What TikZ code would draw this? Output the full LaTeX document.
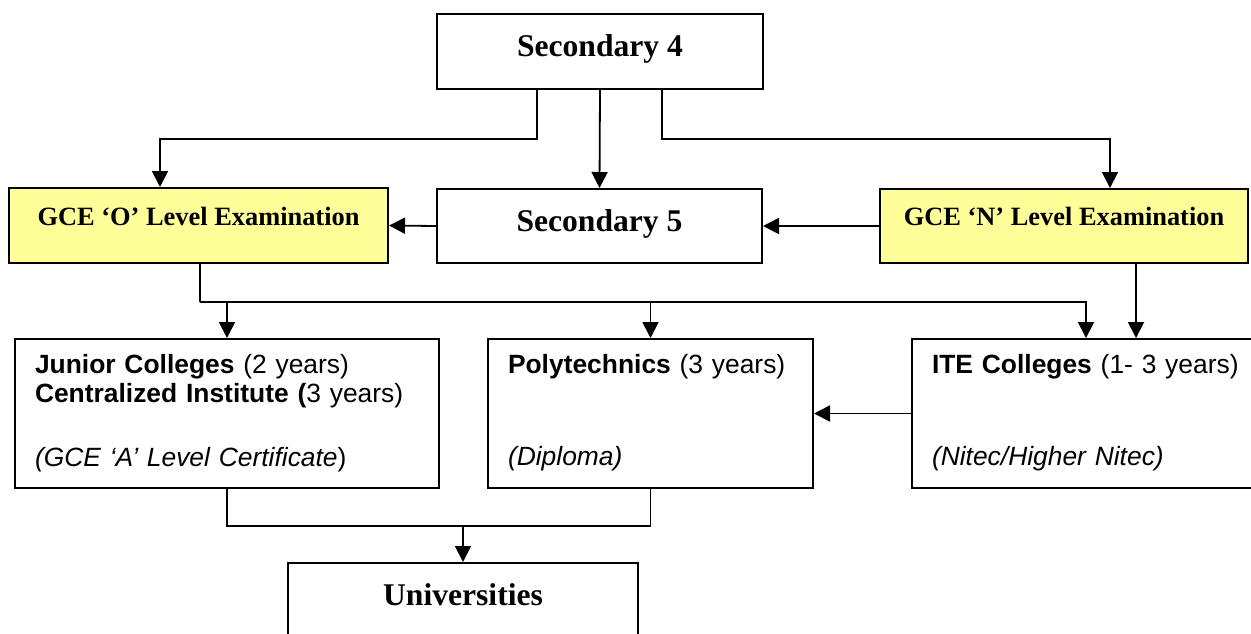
\documentclass[tikz,border=0pt]{standalone}
\usepackage{fontspec}
\setmainfont{Liberation Serif}
\setsansfont{Liberation Sans}
\usepackage{xcolor}
\usetikzlibrary{arrows.meta}
\definecolor{examyellow}{HTML}{FFFF99}

\begin{document}
\begin{tikzpicture}[x=0.5pt,y=-0.5pt,
    box/.style={draw,line width=1pt,inner sep=0pt,anchor=north},
    head/.style={box,font=\bfseries\fontsize{15.8}{18}\selectfont},
    exam/.style={box,fill=examyellow,font=\bfseries\fontsize{13.2}{15}\selectfont},
    course/.style={box,anchor=north west,inner xsep=10pt,align=left,
        text height=17pt,text depth=57.5pt,font=\sffamily\fontsize{13.2}{14.5}\selectfont},
    link/.style={line width=0.9pt},
    arr/.style={link,-{Triangle[length=8pt,width=8pt]}}]
    \useasboundingbox (0,0) rectangle (1251,633);

    % Top row
    \node[head,minimum width=163pt,text height=21pt,text depth=16.5pt] (sec4) at (600,13) {Secondary 4};

    % Examinations and Secondary 5
    \node[exam,minimum width=189.5pt,text height=18.5pt,text depth=19pt] (gceo) at (198.5,187) {GCE ‘O’ Level Examination};
    \node[head,minimum width=162.5pt,text height=21pt,text depth=16pt] (sec5) at (599.5,188) {Secondary 5};
    \node[exam,minimum width=184pt,text height=18pt,text depth=19pt] (gcen) at (1064,188) {GCE ‘N’ Level Examination};

    % Post-secondary
    \node[course,text width=192pt] (jc) at (14,338)
        {\textbf{Junior Colleges} (2 years)\\ \textbf{Centralized Institute (}3 years)\\[17.5pt] \textit{(GCE ‘A’ Level Certificate})};
    \node[course,text width=142.5pt] (poly) at (487,338)
        {\textbf{Polytechnics} (3 years)\\[31.5pt] \textit{(Diploma)}};
    \node[course,text width=175pt] (ite) at (911,338)
        {\textbf{ITE Colleges} (1- 3 years)\\[31.5pt] \textit{(Nitec/Higher Nitec)}};
    \coordinate (itetop) at ([xshift=87.5pt]ite.north west);

    % Universities
    \node[head,minimum width=175pt,text height=21pt,text depth=23pt] (univ) at (463,562) {Universities};

    % From Secondary 4
    \draw[arr] ([xshift=-31.5pt]sec4.south) -- ++(0,49) -| ([xshift=-19.25pt]gceo.north);
    \draw[arr] (sec4.south) -- (sec5.north);
    \draw[arr] ([xshift=31pt]sec4.south) -- ++(0,49) -| ([xshift=23pt]gcen.north);

    % Into the O level box
    \draw[arr] (sec5.west) -- (gceo.east);
    \draw[arr] (gcen.west) -- (sec5.east);

    % O level results
    \draw[link] ([xshift=0.75pt]gceo.south) -- ++(0,38) coordinate (obus);
    \draw[arr] (obus) -| (itetop);
    \draw[arr] (obus -| jc.north) -- (jc.north);
    \draw[arr] (obus -| poly.north) -- (poly.north);

    % N level results
    \draw[arr] ([xshift=36pt]gcen.south) -- ([xshift=36pt]gcen.south |- ite.north);
    \draw[arr] (ite.west) -- (poly.east);

    % To universities
    \draw[link] (jc.south) -- ++(0,37) coordinate (ubus) -| (poly.south);
    \draw[arr] (ubus -| univ.north) -- (univ.north);
\end{tikzpicture}
\end{document}
